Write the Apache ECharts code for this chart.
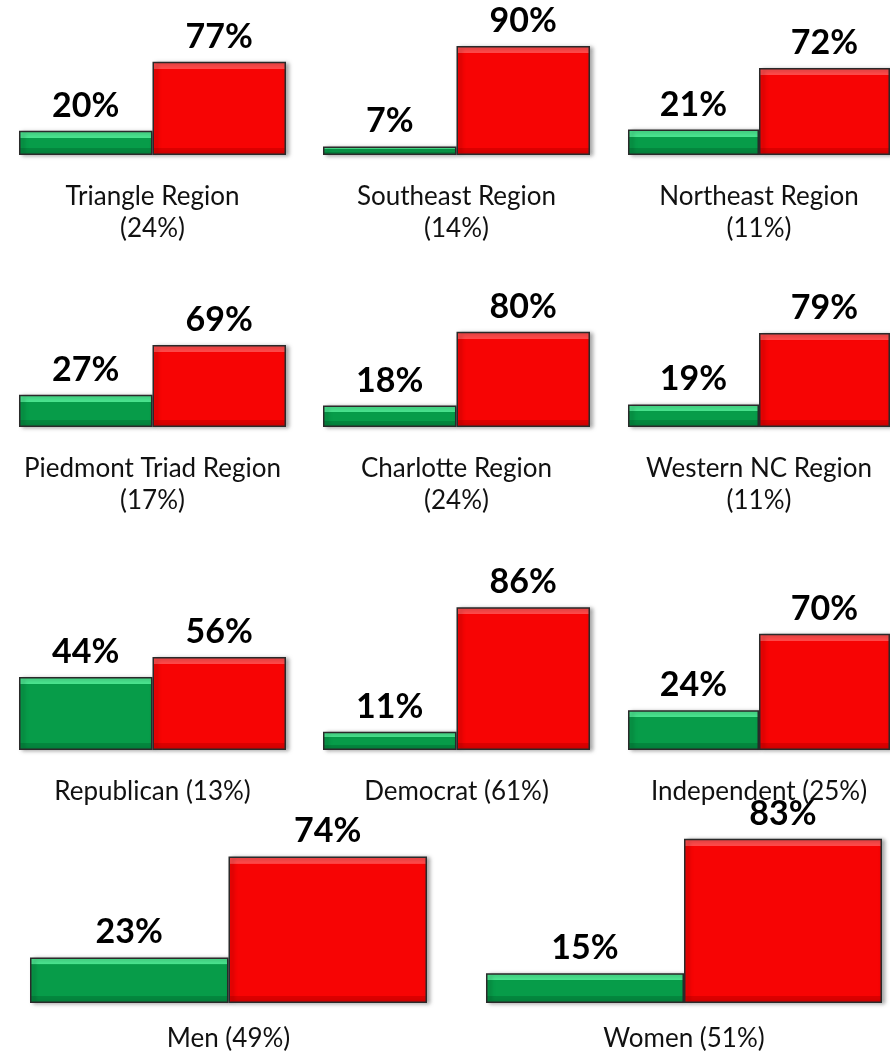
<!DOCTYPE html>
<html>
<head>
<meta charset="utf-8">
<script src="https://cdn.jsdelivr.net/npm/echarts@6/dist/echarts.min.js"></script>
<style>
  html, body { margin: 0; padding: 0; background: #fff; }
  #chart { width: 890px; height: 1056px; }
</style>
</head>
<body>
<div id="chart"></div>
<script>
// panel names and share of sample
const groups = ['Triangle Region', 'Southeast Region', 'Northeast Region',
  'Piedmont Triad Region', 'Charlotte Region', 'Western NC Region',
  'Republican', 'Democrat', 'Independent', 'Men', 'Women'];
const shares = [24, 14, 11, 17, 24, 11, 13, 61, 25, 49, 51];
// green and red bar values (%)
const greenVals = [20, 7, 21, 27, 18, 19, 44, 11, 24, 23, 15];
const redVals = [77, 90, 72, 69, 80, 79, 56, 86, 70, 74, 83];

// panel boxes: left, top, width, height (height = 100%)
const boxes = [
  [19, 34, 267, 121], [323, 34, 267, 121], [628, 34, 267, 121],
  [19, 308, 267, 119], [323, 308, 267, 119], [628, 308, 267, 119],
  [19, 584, 267, 166], [323, 584, 267, 166], [628, 584, 267, 166],
  [30, 805, 397, 198], [486, 805, 396, 198]
];

function bevel(light, main, dark, v, h) {
  // fixed pixel bevel band on top/bottom
  const px = v * h / 100;
  const f = Math.min(0.3, 7 / Math.max(px, 1));
  return {
    type: 'linear', x: 0, y: 0, x2: 0, y2: 1,
    colorStops: [
      { offset: 0, color: light },
      { offset: f, color: light },
      { offset: f + 0.001, color: main },
      { offset: 1 - f, color: main },
      { offset: 1 - f + 0.001, color: dark },
      { offset: 1, color: dark }
    ]
  };
}

const grids = [], xAxes = [], yAxes = [], series = [];
groups.forEach(function (g, i) {
  const b = boxes[i];
  const twoLine = i < 6;
  const name = twoLine ? g + '\n(' + shares[i] + '%)' : g + ' (' + shares[i] + '%)';
  grids.push({ left: b[0], top: b[1], width: b[2], height: b[3], containLabel: false });
  xAxes.push({
    type: 'category', gridIndex: i, data: ['yes', 'no'],
    axisLine: { show: false }, axisTick: { show: false }, axisLabel: { show: false },
    name: name, nameLocation: 'middle', nameGap: i < 9 ? 26 : 20,
    nameTextStyle: { fontFamily: 'Lato', fontSize: 26, color: '#111', lineHeight: 32 }
  });
  yAxes.push({
    type: 'value', gridIndex: i, min: 0, max: 100, show: false,
    splitLine: { show: false }
  });
  series.push({
    type: 'bar', xAxisIndex: i, yAxisIndex: i,
    barCategoryGap: '0%',
    data: [
      { value: greenVals[i], itemStyle: { color: bevel('#4ae58f', '#079c49', '#04873e', greenVals[i], b[3]) } },
      { value: redVals[i], itemStyle: { color: bevel('#ff4a4a', '#f70404', '#dc0000', redVals[i], b[3]) } }
    ],
    itemStyle: {
      borderColor: '#2a2a2a', borderWidth: 1.5,
      shadowColor: 'rgba(0,0,0,0.35)', shadowBlur: 4, shadowOffsetX: 3, shadowOffsetY: 1
    },
    label: {
      show: true, position: 'top', distance: 8,
      formatter: '{c}%',
      fontFamily: 'Lato', fontWeight: 'bold', fontSize: 34, color: '#000'
    },
    emphasis: { disabled: true },
    animation: false
  });
});

const chart = echarts.init(document.getElementById('chart'));
chart.setOption({
  animation: false,
  grid: grids, xAxis: xAxes, yAxis: yAxes, series: series
});
</script>
</body>
</html>
